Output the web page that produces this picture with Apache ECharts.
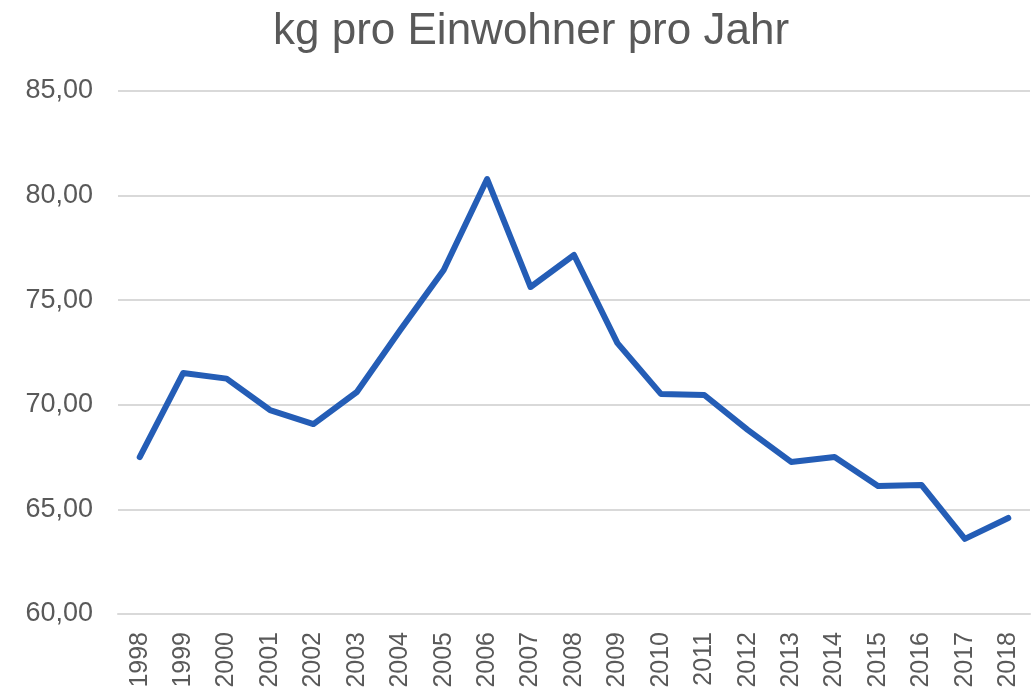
<!DOCTYPE html>
<html>
<head>
<meta charset="utf-8">
<script src="https://cdn.jsdelivr.net/npm/echarts@6/dist/echarts.min.js"></script>
<style>html,body{margin:0;padding:0;background:#fff;}#c{width:1032px;height:695px;}</style>
</head>
<body>
<div id="c"></div>
<script>
const titleText = 'kg pro Einwohner pro Jahr';
const years = ['1998','1999','2000','2001','2002','2003','2004','2005','2006','2007','2008','2009','2010','2011','2012','2013','2014','2015','2016','2017','2018'];
const values = [67.50,71.52,71.25,69.75,69.08,70.61,73.58,76.44,80.79,75.63,77.16,72.95,70.52,70.47,68.80,67.27,67.50,66.12,66.17,63.59,64.59];
const yMin = 60, yMax = 85, yStep = 5;

const chart = echarts.init(document.getElementById('c'));
chart.setOption({
  animation: false,
  backgroundColor: '#ffffff',
  textStyle: { fontFamily: 'Liberation Sans, Arial, sans-serif' },
  title: {
    text: titleText,
    left: 268,
    top: 5,
    textStyle: { fontFamily: 'Liberation Sans, Arial, sans-serif', fontSize: 44, fontWeight: 'normal', color: '#595959' }
  },
  grid: { left: 118, right: 2, top: 91, bottom: 81, containLabel: false },
  xAxis: {
    type: 'category',
    data: years,
    boundaryGap: true,
    axisLine: { show: true, lineStyle: { color: '#d9d9d9', width: 2 } },
    axisTick: { show: false },
    axisLabel: { rotate: 90, margin: 18, fontSize: 25, color: '#595959', fontFamily: 'Liberation Sans, Arial, sans-serif' }
  },
  yAxis: {
    type: 'value',
    min: yMin, max: yMax, interval: yStep,
    axisLine: { show: false },
    axisTick: { show: false },
    splitLine: { lineStyle: { color: '#d9d9d9', width: 2 } },
    axisLabel: {
      margin: 25, fontSize: 27, color: '#595959', fontFamily: 'Liberation Sans, Arial, sans-serif',
      formatter: v => v.toFixed(2).replace('.', ',')
    }
  },
  series: [{
    type: 'line',
    data: values,
    showSymbol: false,
    symbol: 'none',
    lineStyle: { color: '#245DB6', width: 6, cap: 'round', join: 'round' },
    itemStyle: { color: '#245DB6' }
  }]
});
</script>
</body>
</html>
